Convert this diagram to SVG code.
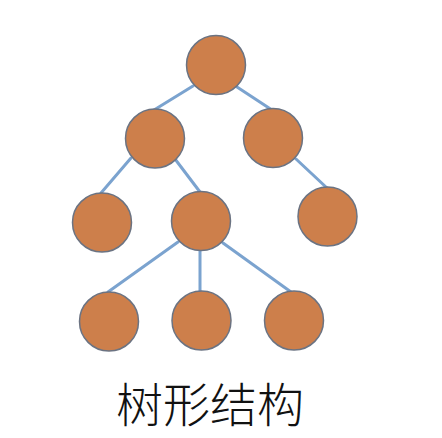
<svg xmlns="http://www.w3.org/2000/svg" width="442" height="438" viewBox="0 0 442 438">
<style>
.edge{stroke:#7BA3CF;stroke-width:3;fill:none;stroke-linecap:round}
.node{fill:#CD7F4B;stroke:#6B7382;stroke-width:1.5}
.label{font-family:"Noto Sans CJK SC","Noto Sans CJK JP",sans-serif;font-size:47px;font-weight:300;fill:#111}
</style>
<rect width="442" height="438" fill="#fff"/>
<g id="connectors">
<line class="edge" x1="193" y1="86" x2="154" y2="110"/>
<line class="edge" x1="237" y1="87" x2="272" y2="110"/>
<line class="edge" x1="131" y1="158" x2="101" y2="193"/>
<line class="edge" x1="175" y1="159" x2="200" y2="192"/>
<line class="edge" x1="296" y1="159" x2="327" y2="188"/>
<line class="edge" x1="178" y1="242" x2="108" y2="292"/>
<line class="edge" x1="200" y1="249" x2="200" y2="291"/>
<line class="edge" x1="223" y1="243" x2="291" y2="292"/>
</g>
<g id="n-root"><circle class="node" cx="216" cy="65" r="29.5"/></g>
<g id="n-l"><circle class="node" cx="155" cy="138.5" r="29.5"/></g>
<g id="n-r"><circle class="node" cx="273" cy="138" r="29.5"/></g>
<g id="n-ll"><circle class="node" cx="102" cy="222.5" r="29.5"/></g>
<g id="n-lm"><circle class="node" cx="201" cy="221" r="29.5"/></g>
<g id="n-rr"><circle class="node" cx="327.5" cy="216.5" r="29.5"/></g>
<g id="n-c1"><circle class="node" cx="109" cy="321.5" r="29.5"/></g>
<g id="n-c2"><circle class="node" cx="201.5" cy="320.5" r="29.5"/></g>
<g id="n-c3"><circle class="node" cx="294" cy="320.5" r="29.5"/></g>
<text class="label" x="210" y="422" text-anchor="middle">树形结构</text>
</svg>
